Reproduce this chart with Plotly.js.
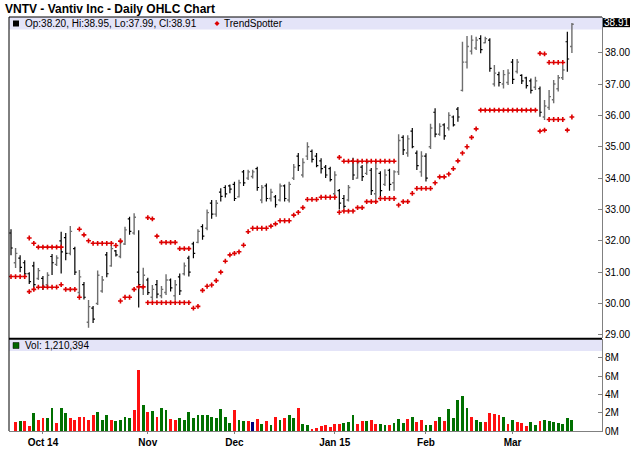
<!DOCTYPE html>
<html>
<head>
<meta charset="utf-8">
<script src="https://cdn.plot.ly/plotly-3.0.1.min.js"></script>
<style>html,body{margin:0;padding:0;background:#fff;}#chart{width:640px;height:468px;}</style>
</head>
<body>
<div id="chart"></div>
<script>
// ---------- DATA ----------
const dates = [
'2014-09-22','2014-09-23','2014-09-24','2014-09-25','2014-09-26','2014-09-29','2014-09-30',
'2014-10-01','2014-10-02','2014-10-03','2014-10-06','2014-10-07','2014-10-08','2014-10-09','2014-10-10',
'2014-10-13','2014-10-14','2014-10-15','2014-10-16','2014-10-17','2014-10-20','2014-10-21','2014-10-22',
'2014-10-23','2014-10-24','2014-10-27','2014-10-28','2014-10-29','2014-10-30','2014-10-31',
'2014-11-03','2014-11-04','2014-11-05','2014-11-06','2014-11-07','2014-11-10','2014-11-11','2014-11-12',
'2014-11-13','2014-11-14','2014-11-17','2014-11-18','2014-11-19','2014-11-20','2014-11-21','2014-11-24',
'2014-11-25','2014-11-26','2014-11-28',
'2014-12-01','2014-12-02','2014-12-03','2014-12-04','2014-12-05','2014-12-08','2014-12-09','2014-12-10',
'2014-12-11','2014-12-12','2014-12-15','2014-12-16','2014-12-17','2014-12-18','2014-12-19','2014-12-22',
'2014-12-23','2014-12-24','2014-12-26','2014-12-29','2014-12-30','2014-12-31',
'2015-01-02','2015-01-05','2015-01-06','2015-01-07','2015-01-08','2015-01-09','2015-01-12','2015-01-13',
'2015-01-14','2015-01-15','2015-01-16','2015-01-20','2015-01-21','2015-01-22','2015-01-23','2015-01-26',
'2015-01-27','2015-01-28','2015-01-29','2015-01-30',
'2015-02-02','2015-02-03','2015-02-04','2015-02-05','2015-02-06','2015-02-09','2015-02-10','2015-02-11',
'2015-02-12','2015-02-13','2015-02-17','2015-02-18','2015-02-19','2015-02-20','2015-02-23','2015-02-24',
'2015-02-25','2015-02-26','2015-02-27',
'2015-03-02','2015-03-03','2015-03-04','2015-03-05','2015-03-06','2015-03-09','2015-03-10','2015-03-11',
'2015-03-12','2015-03-13','2015-03-16','2015-03-17','2015-03-18','2015-03-19'
];

const openP = [
32.25,31.30,31.45,31.30,30.95,31.20,30.80,30.80,30.60,31.50,31.25,
32.00,32.10,31.60,31.75,30.35,30.60,29.40,29.85,30.00,30.40,
31.55,31.20,31.68,31.50,31.90,32.70,32.25,31.00,30.50,30.75,
30.20,30.60,30.25,30.35,30.75,30.25,30.85,30.95,31.45,31.90,
31.95,32.45,32.40,33.20,32.85,33.55,33.70,33.75,33.80,33.40,
34.20,34.00,34.05,34.30,33.30,33.75,33.35,33.40,33.30,33.75,
33.30,34.00,34.70,34.10,34.70,34.85,34.70,34.55,34.35,34.30,
33.50,33.60,33.35,33.30,34.55,34.00,34.35,34.15,34.25,33.50,
34.15,33.80,34.25,33.85,34.20,35.30,34.80,35.50,34.80,34.20,
34.70,35.00,36.10,35.40,35.70,35.60,35.95,36.20,36.80,37.70,
38.05,38.15,38.45,38.32,38.40,37.00,37.30,37.00,37.05,37.70,
37.40,37.28,37.20,37.10,36.90,36.85,35.95,36.25,36.50,36.85,
37.20,38.35,38.20
];
const highP = [
32.37,31.77,31.54,31.38,31.00,31.33,31.13,30.88,31.00,31.58,31.54,
32.29,32.25,32.47,31.81,31.07,30.69,30.11,29.92,31.05,30.88,
31.64,31.87,31.71,32.08,32.45,32.77,32.88,32.34,31.14,30.82,
30.59,30.75,30.56,30.93,30.80,30.75,30.96,31.31,31.52,31.97,
32.37,32.53,33.00,33.30,33.30,33.68,33.77,33.80,33.88,33.95,
34.26,34.27,34.27,34.36,33.78,33.83,33.66,33.46,33.83,33.80,
33.88,34.45,34.80,34.63,35.14,34.91,34.80,34.63,34.42,34.36,
34.22,33.65,33.46,33.78,34.65,34.60,34.42,34.60,34.32,34.52,
34.22,34.28,34.30,34.25,35.40,35.37,35.37,35.60,34.88,34.86,
34.79,35.73,36.23,35.75,35.75,36.10,36.00,36.27,38.35,38.53,
38.56,38.51,38.56,38.51,38.46,37.61,37.39,37.45,37.47,37.80,
37.80,37.31,37.23,37.18,37.23,36.92,36.49,36.81,37.13,37.29,
37.61,38.67,38.95
];
const lowP = [
31.54,31.13,31.00,30.88,30.62,30.48,30.75,30.43,30.52,30.91,31.20,
30.96,31.38,31.54,30.91,30.22,30.13,29.23,29.38,29.95,30.34,
30.84,31.17,31.50,31.44,31.87,32.19,32.19,29.87,30.27,30.27,
30.11,30.17,30.17,30.27,30.38,30.11,30.27,30.89,30.86,31.44,
31.92,32.03,32.34,32.70,32.77,33.25,33.38,33.52,33.27,33.38,
33.75,33.94,33.99,33.60,33.20,33.25,33.25,33.06,33.25,33.25,
33.22,33.94,34.23,34.02,34.58,34.50,34.35,34.15,34.00,33.89,
33.41,33.00,33.02,33.25,33.94,33.98,33.91,34.10,33.46,33.33,
33.40,33.75,33.60,33.60,34.10,34.74,34.68,34.95,34.26,34.04,
33.89,34.93,35.30,35.35,35.22,35.52,35.65,35.80,36.76,37.50,
37.94,38.09,37.98,38.30,37.39,36.92,36.92,36.86,36.97,37.00,
37.34,37.00,36.86,36.70,36.81,35.96,35.85,36.17,36.39,36.76,
37.13,37.39,37.99
];
const closeP = [
31.77,31.60,31.15,30.95,30.70,30.60,31.05,30.55,30.90,31.30,31.45,
31.65,31.60,32.30,31.00,30.85,30.20,29.90,29.50,30.90,30.75,
30.95,31.75,31.55,31.95,32.35,32.30,32.75,30.60,30.90,30.35,
30.45,30.30,30.45,30.75,30.50,30.60,30.40,31.20,31.00,31.60,
32.30,32.15,32.90,32.85,33.20,33.42,33.50,33.65,33.35,33.85,
33.85,34.20,34.20,33.70,33.70,33.35,33.55,33.15,33.75,33.35,
33.80,34.35,34.40,34.50,35.00,34.60,34.40,34.30,34.10,33.95,
34.10,33.20,33.10,33.70,34.10,34.50,34.05,34.50,33.60,34.30,
33.60,34.10,33.80,34.20,35.20,34.90,35.25,35.00,34.40,34.70,
34.00,35.60,35.40,35.65,35.35,36.00,35.70,35.95,37.70,38.20,
38.40,38.40,38.10,38.45,37.50,37.35,37.05,37.30,37.35,37.15,
37.70,37.10,36.95,36.80,37.10,36.10,36.30,36.60,37.00,37.20,
37.45,37.80,38.91
];

const volume = [
null,950000,1100000,1100000,600000,2000000,1200000,1450000,1400000,2500000,900000,
2500000,2000000,1400000,1150000,1500000,1500000,1150000,1700000,2100000,1150000,
1700000,1150000,1100000,1150000,1550000,1450000,2250000,6650000,2850000,2050000,
2200000,1550000,2500000,2250000,1300000,1200000,1400000,1150000,2050000,1450000,
1750000,1700000,1750000,1550000,1400000,2400000,1500000,900000,2250000,1250000,
1050000,1100000,950000,1300000,800000,1100000,650000,1550000,1250000,1450000,
1700000,1400000,2500000,750000,650000,250000,300000,600000,650000,450000,
800000,800000,900000,1000000,1700000,750000,1100000,1100000,1200000,800000,
750000,700000,650000,900000,1300000,900000,1300000,1500000,950000,1150000,
700000,650000,1100000,1550000,1100000,2400000,1400000,3350000,3800000,2500000,
1550000,1150000,1000000,950000,2000000,1850000,1750000,1550000,750000,1250000,
950000,900000,600000,950000,650000,1050000,1250000,1100000,1000000,900000,
750000,1400000,1210394
];
// u = up day, d = down day, n = unchanged (as coloured in the reference)
const volumeDir = [
'u','d','u','d','d','u','d','d','u','u','d',
'u','u','d','d','d','d','d','d','u','u',
'u','d','u','u','u','u','d','d','u','d',
'u','d','u','u','d','d','u','u','u','u',
'u','u','u','u','u','u','u','u','d','u',
'u','d','n','d','u','d','u','d','u','d',
'u','u','d','u','u','d','d','d','d','d',
'd','d','u','u','u','d','d','u','d','d',
'u','u','d','u','u','u','d','u','d','d',
'u','u','d','u','d','u','u','u','u','u',
'd','u','u','d','d','d','d','u','d','u',
'd','d','d','u','u','d','u','u','u','u',
'u','u','u'
];

const trendUpper = [
null,null,null,null,32.09,31.92,31.80,31.80,31.80,31.80,31.80,
31.80,null,null,null,32.37,32.19,32.00,31.92,31.92,31.92,
31.92,31.92,31.85,31.99,null,null,null,null,null,32.74,
32.70,32.15,31.95,31.95,31.95,31.95,31.75,31.75,31.75,null,
null,null,null,null,null,null,null,null,null,null,
null,null,null,null,null,null,null,null,null,null,
null,null,null,null,null,null,null,null,null,null,
null,34.66,34.54,34.54,34.54,34.54,34.54,34.54,34.54,34.54,
34.54,34.54,34.54,34.54,null,null,null,null,null,null,
null,null,null,null,null,null,null,null,null,null,
null,null,null,null,null,null,null,null,null,null,
null,null,null,null,null,37.98,37.96,37.69,37.69,37.69,
37.69,null,null
];
const trendLower = [
30.86,30.86,30.86,30.86,30.38,30.45,30.52,30.52,30.52,30.52,30.52,
30.60,30.45,30.45,30.45,30.20,null,null,null,null,null,
null,null,null,30.08,30.20,30.20,30.45,30.53,30.53,30.03,
30.03,30.03,30.03,30.03,30.03,30.03,30.03,30.03,30.03,29.85,
29.91,30.42,30.55,30.59,30.73,31.00,31.35,31.55,31.60,31.65,
31.86,32.29,32.40,32.40,32.40,32.40,32.47,32.54,32.64,32.64,
32.64,32.82,32.91,33.06,33.32,33.32,33.32,33.39,33.39,33.39,
33.39,32.91,32.95,32.95,32.95,33.06,33.06,33.25,33.25,33.25,
33.35,33.35,33.35,33.35,33.14,33.25,33.25,33.51,33.67,33.67,
33.67,33.67,33.85,34.04,34.04,34.13,34.30,34.55,34.80,35.00,
35.30,35.57,36.17,36.17,36.17,36.17,36.17,36.17,36.17,36.17,
36.17,36.17,36.17,36.17,36.17,35.50,35.53,35.87,35.87,35.87,
35.87,35.53,35.95
];

const monthTickDates = ['2014-10-01','2014-11-03','2014-12-01','2015-01-02','2015-02-02','2015-03-02'];
const monthTickLabels = ['Oct 14','Nov','Dec','Jan 15','Feb','Mar'];
const priceTicks = [29,30,31,32,33,34,35,36,37,38];
const volumeTicks = [0,2000000,4000000,6000000,8000000];
const volumeTickLabels = ['0M','2M','4M','6M','8M'];

const chartTitle = 'VNTV - Vantiv Inc - Daily OHLC Chart';
const trendName = 'TrendSpotter';

// ---------- LAYOUT HELPERS ----------
const W = 640, H = 468, L = 9, R = 602, T = 17, B = 431;
const px2x = p => (p - L) / (R - L);
const py2y = p => (B - p) / (B - T);
const FONT = 'Liberation Sans, Arial, Helvetica, sans-serif';

const last = closeP.length - 1;
const fmt = v => v.toFixed(2);
const legendText = 'Op:' + fmt(openP[last]) + ', Hi:' + fmt(highP[last]) +
  ', Lo:' + fmt(lowP[last]) + ', Cl:' + fmt(closeP[last]);
const volText = 'Vol: ' + volume[last].toLocaleString('en-US');

const dirColor = {u: '#007000', d: '#ff1010', n: '#000080'};

const traces = [
  {
    type: 'ohlc', x: dates, open: openP, high: highP, low: lowP, close: closeP,
    xaxis: 'x', yaxis: 'y', tickwidth: 0.4,
    line: {width: 1},
    increasing: {line: {color: '#6e6e6e', width: 1.4}},
    decreasing: {line: {color: '#000000', width: 1.2}},
    showlegend: false, hoverinfo: 'skip'
  },
  {
    type: 'scatter', mode: 'markers', x: dates, y: trendUpper,
    xaxis: 'x', yaxis: 'y',
    marker: {symbol: 'cross', size: 4, color: '#dd0000', line: {width: 0}},
    showlegend: false, hoverinfo: 'skip'
  },
  {
    type: 'scatter', mode: 'markers', x: dates, y: trendLower,
    xaxis: 'x', yaxis: 'y',
    marker: {symbol: 'cross', size: 4, color: '#dd0000', line: {width: 0}},
    showlegend: false, hoverinfo: 'skip'
  },
  {
    type: 'bar', x: dates, y: volume, xaxis: 'x', yaxis: 'y2',
    width: 0.62,
    marker: {color: volumeDir.map(d => dirColor[d]), line: {width: 0}},
    showlegend: false, hoverinfo: 'skip'
  }
];

const boxHalf = 0.145;
const layout = {
  width: W, height: H,
  margin: {l: L, r: W - R, t: T, b: H - B, pad: 0},
  paper_bgcolor: '#ffffff', plot_bgcolor: '#ffffff',
  font: {family: FONT, size: 10, color: '#000'},
  title: {
    text: chartTitle, xref: 'container', yref: 'container',
    x: 5 / W, xanchor: 'left', y: 1 - 9 / H, yanchor: 'middle',
    font: {family: FONT, size: 12, color: '#000', weight: 'bold'}
  },
  showlegend: false,
  bargap: 0,
  xaxis: {
    type: 'category', range: [-0.44, 129.6], anchor: 'y2', domain: [0, 1],
    showline: true, linecolor: '#808080', linewidth: 1,
    ticks: 'outside', ticklen: 2, tickcolor: '#808080',
    tickmode: 'array', tickvals: monthTickDates, ticktext: monthTickLabels,
    tickfont: {family: FONT, size: 10, color: '#000', weight: 'bold'},
    showgrid: false, zeroline: false, rangeslider: {visible: false}, fixedrange: true
  },
  yaxis: {
    domain: [py2y(338), 1], range: [28.9, 39.139], side: 'right', anchor: 'x',
    showline: true, linecolor: '#808080', linewidth: 1,
    ticks: 'inside', ticklen: 4, tickcolor: '#808080',
    tickmode: 'array', tickvals: priceTicks, tickformat: '.2f',
    tickfont: {family: FONT, size: 10, color: '#000'},
    showgrid: false, zeroline: false, fixedrange: true
  },
  yaxis2: {
    domain: [0, py2y(339)], range: [0, 10050000], side: 'right', anchor: 'x',
    showline: true, linecolor: '#808080', linewidth: 1,
    ticks: 'inside', ticklen: 4, tickcolor: '#808080',
    tickmode: 'array', tickvals: volumeTicks, ticktext: volumeTickLabels,
    tickfont: {family: FONT, size: 10, color: '#000'},
    showgrid: false, zeroline: false, fixedrange: true
  },
  shapes: [
    {type: 'rect', xref: 'paper', yref: 'paper', x0: 0, x1: 1, y0: py2y(29.5), y1: 1,
     fillcolor: '#e4e4f8', line: {width: 0}, layer: 'below'},
    {type: 'rect', xref: 'paper', yref: 'paper', x0: 0, x1: 1, y0: py2y(351), y1: py2y(339.5),
     fillcolor: '#e4e4f8', line: {width: 0}, layer: 'below'},
    {type: 'line', xref: 'paper', yref: 'paper', x0: 0, x1: 0, y0: 0, y1: 1,
     line: {color: '#000', width: 1}},
    {type: 'line', xref: 'paper', yref: 'paper', x0: 0, x1: 1, y0: 1, y1: 1,
     line: {color: '#000', width: 1}},
    {type: 'line', xref: 'paper', yref: 'paper', x0: 0, x1: 1, y0: py2y(338.8), y1: py2y(338.8),
     line: {color: '#000', width: 2}},
    {type: 'rect', xref: 'paper', yref: 'paper', x0: px2x(13), x1: px2x(19), y0: py2y(26.5), y1: py2y(20.5),
     fillcolor: '#000', line: {width: 0}},
    {type: 'path', xref: 'paper', yref: 'paper',
     path: 'M ' + px2x(214.5) + ' ' + py2y(23.5) + ' L ' + px2x(217) + ' ' + py2y(21) +
           ' L ' + px2x(219.5) + ' ' + py2y(23.5) + ' L ' + px2x(217) + ' ' + py2y(26) + ' Z',
     fillcolor: '#dd0000', line: {width: 0}},
    {type: 'rect', xref: 'paper', yref: 'paper', x0: px2x(13), x1: px2x(19), y0: py2y(348.5), y1: py2y(342.5),
     fillcolor: '#006400', line: {color: '#000', width: 0.5}},
    {type: 'rect', xref: 'paper', yref: 'y', x0: px2x(603), x1: px2x(630),
     y0: closeP[last] - boxHalf + 0.05, y1: closeP[last] + boxHalf + 0.05,
     fillcolor: '#000', line: {width: 0}}
  ],
  annotations: [
    {xref: 'paper', yref: 'paper', x: px2x(23), y: py2y(23.5), xanchor: 'left', yanchor: 'middle',
     text: legendText, showarrow: false, font: {family: FONT, size: 10, color: '#000'}},
    {xref: 'paper', yref: 'paper', x: px2x(222), y: py2y(23.5), xanchor: 'left', yanchor: 'middle',
     text: trendName, showarrow: false, font: {family: FONT, size: 10, color: '#000'}},
    {xref: 'paper', yref: 'paper', x: px2x(23), y: py2y(345.5), xanchor: 'left', yanchor: 'middle',
     text: volText, showarrow: false, font: {family: FONT, size: 10, color: '#000'}},
    {xref: 'paper', yref: 'y', x: px2x(616.5), y: closeP[last] + 0.05, xanchor: 'center', yanchor: 'middle',
     text: fmt(closeP[last]), showarrow: false, font: {family: FONT, size: 10, color: '#fff'}}
  ]
};

Plotly.newPlot('chart', traces, layout, {displayModeBar: false, staticPlot: true});
</script>
</body>
</html>
